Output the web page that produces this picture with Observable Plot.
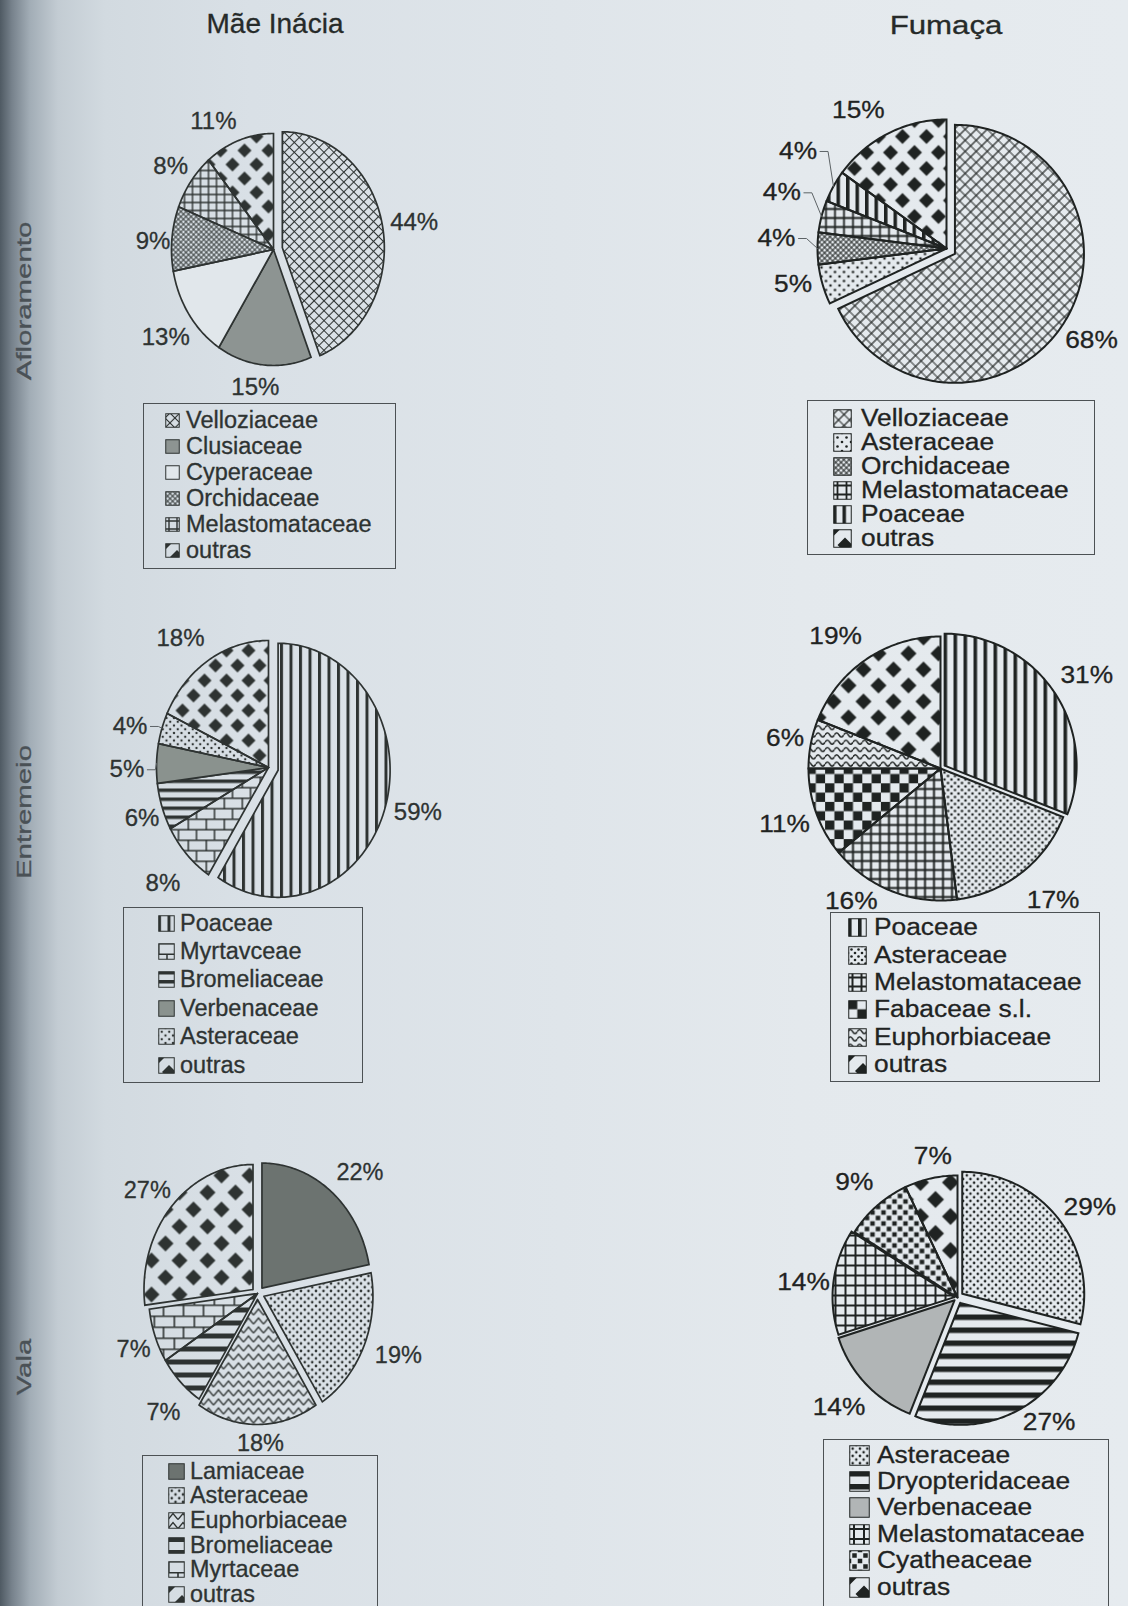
<!DOCTYPE html>
<html>
<head>
<meta charset="utf-8">
<script src="https://cdn.jsdelivr.net/npm/d3@7"></script>
<script src="https://cdn.jsdelivr.net/npm/@observablehq/plot@0.6"></script>
<style>
  html, body { margin: 0; padding: 0; }
  body {
    width: 1128px; height: 1606px; overflow: hidden; position: relative;
    font-family: "Liberation Sans", Arial, sans-serif; color: #262a29;
    background: linear-gradient(to right, #4f5a63 0px, #77828c 12px, #a2adb6 30px, #c3ccd3 58px,
      #d2dae0 105px, #d9e0e6 250px, #dfe5ea 560px, #e4e9ed 800px, #e6ebef 1128px);
  }
  .title { position: absolute; white-space: nowrap; line-height: 1; -webkit-text-stroke: 0.3px currentColor; }
  .rowlabel { position: absolute; white-space: nowrap; line-height: 1; color: #4a5156; font-size: 21px; -webkit-text-stroke: 0.3px currentColor; }
  .panel { position: absolute; }
  .panel svg { max-width: none !important; display: block; }
  .legend { position: absolute; box-sizing: border-box; border: 1.5px solid #4c5154; }
  .legend .row { display: flex; align-items: center; white-space: nowrap; }
  .legend .row span { display: inline-block; transform-origin: left center; -webkit-text-stroke: 0.3px currentColor; }
  .legend svg { flex: none; }
</style>
</head>
<body>
<svg id="pattern-defs" width="0" height="0" style="position:absolute;left:0;top:0"><defs></defs></svg>
<script>
// Family composition (% of species) by site and habitat
const siteTitles = ["Mãe Inácia", "Fumaça"];
const habitatLabels = ["Afloramento", "Entremeio", "Vala"];

const maeAfloramentoFamilies = ["Velloziaceae", "Clusiaceae", "Cyperaceae", "Orchidaceae", "Melastomataceae", "outras"];
const maeAfloramentoShares = [44, 15, 13, 9, 8, 11];

const fumacaAfloramentoFamilies = ["Velloziaceae", "Asteraceae", "Orchidaceae", "Melastomataceae", "Poaceae", "outras"];
const fumacaAfloramentoShares = [68, 5, 4, 4, 4, 15];

const maeEntremeioFamilies = ["Poaceae", "Myrtavceae", "Bromeliaceae", "Verbenaceae", "Asteraceae", "outras"];
const maeEntremeioShares = [59, 8, 6, 5, 4, 18];

const fumacaEntremeioFamilies = ["Poaceae", "Asteraceae", "Melastomataceae", "Fabaceae s.l.", "Euphorbiaceae", "outras"];
const fumacaEntremeioShares = [31, 17, 16, 11, 6, 19];

const maeValaFamilies = ["Lamiaceae", "Asteraceae", "Euphorbiaceae", "Bromeliaceae", "Myrtaceae", "outras"];
const maeValaShares = [22, 19, 18, 7, 7, 27];

const fumacaValaFamilies = ["Asteraceae", "Dryopteridaceae", "Verbenaceae", "Melastomataceae", "Cyatheaceae", "outras"];
const fumacaValaShares = [29, 27, 14, 14, 9, 7];

// ---------- hatch patterns ----------
const defs = d3.select("#pattern-defs defs");
let patternCount = 0;

function addPattern(w, h, ink, draw, transform) {
  const id = "hatch-" + (++patternCount);
  const p = defs.append("pattern").attr("id", id)
    .attr("patternUnits", "userSpaceOnUse").attr("width", w).attr("height", h);
  if (transform) p.attr("patternTransform", transform);
  draw(p, ink);
  return `url(#${id})`;
}

function diamondPath(cx, cy, a) {
  return `M${cx - a},${cy}L${cx},${cy - a}L${cx + a},${cy}L${cx},${cy + a}Z`;
}

const hatch = {
  solid: (ink, color) => color,
  cross: (ink, s, lw) => addPattern(s, s, ink, (p) =>
    p.append("path").attr("d", `M0,${s / 2}H${s}M${s / 2},0V${s}`).attr("stroke", ink).attr("stroke-width", lw), "rotate(45)"),
  grid: (ink, s, lw) => addPattern(s, s, ink, (p) =>
    p.append("path").attr("d", `M0,${s / 2}H${s}M${s / 2},0V${s}`).attr("stroke", ink).attr("stroke-width", lw)),
  vstripes: (ink, s, lw) => addPattern(s, s, ink, (p) =>
    p.append("rect").attr("x", 0).attr("y", 0).attr("width", lw).attr("height", s).attr("fill", ink)),
  hstripes: (ink, s, lw) => addPattern(s, s, ink, (p) =>
    p.append("rect").attr("x", 0).attr("y", 0).attr("width", s).attr("height", lw).attr("fill", ink)),
  dots: (ink, s, r) => addPattern(s, s, ink, (p) => {
    for (const [cx, cy] of [[0, 0], [s, 0], [0, s], [s, s], [s / 2, s / 2]])
      p.append("circle").attr("cx", cx).attr("cy", cy).attr("r", r).attr("fill", ink);
  }),
  diamonds: (ink, w, h, a) => addPattern(w, 2 * h, ink, (p) => {
    for (const [cx, cy] of [[0, 0], [w, 0], [0, 2 * h], [w, 2 * h], [w / 2, h]])
      p.append("path").attr("d", diamondPath(cx, cy, a)).attr("fill", ink);
  }),
  brick: (ink, w, h, lw) => addPattern(w, 2 * h, ink, (p) =>
    p.append("path").attr("d", `M0,${lw / 2}H${w}M0,${h + lw / 2}H${w}M${lw / 2},0V${h}M${w / 2},${h}V${2 * h}`)
      .attr("stroke", ink).attr("stroke-width", lw).attr("fill", "none")),
  checker: (ink, s) => addPattern(2 * s, 2 * s, ink, (p) => {
    p.append("rect").attr("x", 0).attr("y", 0).attr("width", s).attr("height", s).attr("fill", ink);
    p.append("rect").attr("x", s).attr("y", s).attr("width", s).attr("height", s).attr("fill", ink);
  }),
  wave: (ink, wl, sp, amp, lw) => addPattern(wl, sp, ink, (p) =>
    p.append("path").attr("d", `M0,${sp / 2}Q${wl / 4},${sp / 2 - 2 * amp} ${wl / 2},${sp / 2}T${wl},${sp / 2}`)
      .attr("stroke", ink).attr("stroke-width", lw).attr("fill", "none")),
  zigzag: (ink, wl, sp, amp, lw) => addPattern(wl, sp, ink, (p) =>
    p.append("path").attr("d", `M0,${sp / 2 + amp}L${wl / 2},${sp / 2 - amp}L${wl},${sp / 2 + amp}`)
      .attr("stroke", ink).attr("stroke-width", lw).attr("fill", "none")),
  squares: (ink, s, q) => addPattern(s, s, ink, (p) => {
    for (const [cx, cy] of [[0, 0], [s, 0], [0, s], [s, s], [s / 2, s / 2]])
      p.append("rect").attr("x", cx - q / 2).attr("y", cy - q / 2).attr("width", q).attr("height", q).attr("fill", ink);
  })
};

// ---------- panel layout and styling ----------
const LEFT_INK = "#2e3332";
const RIGHT_INK = "#1f2322";

const panels = [
  {
    families: maeAfloramentoFamilies, shares: maeAfloramentoShares, ink: LEFT_INK,
    cx: 273, cy: 249, rx: 102, ry: 116, strokeWidth: 1.7, labelSize: 24, stretch: 1,
    explode: { Velloziaceae: 9 },
    nudge: { outras: [-18, 2], Orchidaceae: [5, 5], Cyperaceae: [2, 5], Clusiaceae: [-7, 6], Velloziaceae: [1, 2] },
    leaders: [],
    fills: {
      Velloziaceae: ["cross", 7, 1.1], Clusiaceae: ["solid", "#8d9492"], Cyperaceae: ["solid", "#e1e7eb"],
      Orchidaceae: ["cross", 3.6, 0.9], Melastomataceae: ["grid", 8, 1.4], outras: ["diamonds", 24, 14, 7]
    },
    legend: { left: 143, top: 403, width: 253, height: 166, padTop: 3, padLeft: 21, rowH: 26, swatch: 15, gap: 6, font: 23.5, stretch: 1 }
  },
  {
    families: fumacaAfloramentoFamilies, shares: fumacaAfloramentoShares, ink: RIGHT_INK,
    cx: 946, cy: 248, rx: 129, ry: 129, strokeWidth: 2, labelSize: 23.5, stretch: 1.12,
    explode: { Velloziaceae: 10 },
    nudge: { outras: [-18, 0], Poaceae: [-12, -22], Melastomataceae: [-14, -17], Orchidaceae: [-16, -10], Asteraceae: [-4, -7] },
    leaders: ["Poaceae", "Melastomataceae", "Orchidaceae"],
    fills: {
      Velloziaceae: ["cross", 7.8, 1.2], Asteraceae: ["dots", 9, 1.3], Orchidaceae: ["cross", 3.8, 1],
      Melastomataceae: ["grid", 9, 1.8], Poaceae: ["vstripes", 9.5, 3.5], outras: ["diamonds", 24, 16, 7.5]
    },
    legend: { left: 807, top: 400, width: 288, height: 155, padTop: 5, padLeft: 25, rowH: 24, swatch: 19, gap: 9, font: 23.5, stretch: 1.12 }
  },
  {
    families: maeEntremeioFamilies, shares: maeEntremeioShares, ink: LEFT_INK,
    cx: 268, cy: 767, rx: 112, ry: 127, strokeWidth: 1.7, labelSize: 24, stretch: 1,
    explode: { Poaceae: 10 },
    nudge: { outras: [-14, 0], Myrtavceae: [-6, 12], Bromeliaceae: [4, 4], Asteraceae: [-8, 6], Verbenaceae: [-6, 7], Poaceae: [2, -2] },
    leaders: ["Asteraceae", "Verbenaceae"],
    fills: {
      Poaceae: ["vstripes", 9.5, 3], Myrtavceae: ["brick", 18, 10.5, 1.5], Bromeliaceae: ["hstripes", 9, 3.5],
      Verbenaceae: ["solid", "#8a928e"], Asteraceae: ["dots", 7.5, 1.2], outras: ["diamonds", 22, 15, 7]
    },
    legend: { left: 123, top: 907, width: 240, height: 176, padTop: 1, padLeft: 34, rowH: 28.4, swatch: 17, gap: 5, font: 23.5, stretch: 1 }
  },
  {
    families: fumacaEntremeioFamilies, shares: fumacaEntremeioShares, ink: RIGHT_INK,
    cx: 940, cy: 768, rx: 132, ry: 132, strokeWidth: 2, labelSize: 23.5, stretch: 1.12,
    explode: { Poaceae: 5 },
    nudge: { outras: [-15, 0], Melastomataceae: [-32, -12], Asteraceae: [14, 5], Poaceae: [6, 2] },
    leaders: [],
    fills: {
      Poaceae: ["vstripes", 10, 3.6], Asteraceae: ["dots", 7, 1.3], Melastomataceae: ["grid", 9, 2],
      "Fabaceae s.l.": ["checker", 9.3], Euphorbiaceae: ["wave", 9.3, 7.3, 2, 1.4], outras: ["diamonds", 30, 16, 8]
    },
    legend: { left: 830, top: 912, width: 270, height: 170, padTop: 1, padLeft: 17, rowH: 27.4, swatch: 19, gap: 7, font: 23.5, stretch: 1.12 }
  },
  {
    families: maeValaFamilies, shares: maeValaShares, ink: LEFT_INK,
    cx: 257, cy: 1293, rx: 109, ry: 125, strokeWidth: 1.7, labelSize: 23.5, stretch: 1,
    explode: { Lamiaceae: 7, Asteraceae: 7, Euphorbiaceae: 6, outras: 6 },
    nudge: { Lamiaceae: [11, 2], Bromeliaceae: [0, 14], Euphorbiaceae: [3, 5], outras: [-2, 3], Asteraceae: [6, -3], Myrtaceae: [2, 5] },
    leaders: [],
    fills: {
      Lamiaceae: ["solid", "#6c7370"], Asteraceae: ["dots", 7.5, 1.3], Euphorbiaceae: ["zigzag", 10, 9, 3, 1.4],
      Bromeliaceae: ["hstripes", 13, 5], Myrtaceae: ["brick", 20, 11, 1.6], outras: ["diamonds", 28, 17, 8]
    },
    legend: { left: 142, top: 1455, width: 236, height: 170, padTop: 3, padLeft: 25, rowH: 24.6, swatch: 17, gap: 5, font: 23.4, stretch: 1 }
  },
  {
    families: fumacaValaFamilies, shares: fumacaValaShares, ink: RIGHT_INK,
    cx: 957, cy: 1297, rx: 122, ry: 122, strokeWidth: 2, labelSize: 23.5, stretch: 1.12,
    explode: { Asteraceae: 6, Dryopteridaceae: 6, Verbenaceae: 4, Melastomataceae: 3 },
    nudge: { Dryopteridaceae: [22, -12], Asteraceae: [6, 8], Cyatheaceae: [-6, -5], outras: [6, -4], Melastomataceae: [3, 5], Verbenaceae: [-4, 3] },
    leaders: [],
    fills: {
      Asteraceae: ["dots", 7.3, 1.3], Dryopteridaceae: ["hstripes", 13, 5.5], Verbenaceae: ["solid", "#b1b5b6"],
      Melastomataceae: ["grid", 10, 2], Cyatheaceae: ["squares", 11, 4.5], outras: ["diamonds", 30, 17, 8.5]
    },
    legend: { left: 823, top: 1439, width: 286, height: 190, padTop: 2, padLeft: 25, rowH: 26.4, swatch: 21, gap: 7, font: 23.5, stretch: 1.12 }
  }
];

// ---------- drawing ----------
const PAD = 95; // room around each pie for its percentage labels
const DEG = Math.PI / 180;

function percentWidthEm(text) {
  let w = 0;
  for (const ch of text) w += ch === "%" ? 0.889 : 0.556;
  return w;
}

function drawPanel(panel) {
  const { families, shares, rx, ry, cx, cy, ink } = panel;
  const total = d3.sum(shares);
  const W = 2 * (rx + PAD), H = 2 * (ry + PAD);
  const kx = (rx + PAD) / rx, ky = (ry + PAD) / ry;

  const fills = {};
  for (const f of families) {
    const [kind, ...args] = panel.fills[f];
    fills[f] = hatch[kind](ink, ...args);
  }

  // slices in unit coordinates: angle measured clockwise from 12 o'clock
  let acc = 0;
  const slices = families.map((family, i) => {
    const start = acc / total * 2 * Math.PI;
    acc += shares[i];
    const end = acc / total * 2 * Math.PI;
    return { family, value: shares[i], start, end, mid: (start + end) / 2, explode: panel.explode[family] || 0 };
  });

  const marks = [];
  for (const s of slices) {
    const ox = s.explode * Math.sin(s.mid) / rx, oy = -s.explode * Math.cos(s.mid) / ry;
    const n = Math.max(2, Math.ceil((s.end - s.start) / DEG));
    const pts = [{ x: ox, y: oy }];
    for (let j = 0; j <= n; j++) {
      const a = s.start + (s.end - s.start) * j / n;
      pts.push({ x: ox + Math.sin(a), y: oy - Math.cos(a) });
    }
    pts.push({ x: ox, y: oy });
    marks.push(Plot.line(pts, {
      x: "x", y: "y", fill: fills[s.family], stroke: ink, strokeWidth: panel.strokeWidth,
      strokeLinejoin: "miter", strokeMiterlimit: 4, curve: "linear"
    }));
  }

  // percentage labels just outside each slice
  const labels = [];
  const leaderPts = [];
  for (const s of slices) {
    const text = `${s.value}%`;
    const dx = Math.sin(s.mid), dy = -Math.cos(s.mid);
    const hw = percentWidthEm(text) * panel.labelSize * panel.stretch / 2;
    const hh = 0.36 * panel.labelSize;
    const off = s.explode + 6 + hw * Math.abs(dx) + hh * Math.abs(dy);
    const [nx, ny] = panel.nudge[s.family] || [0, 0];
    const px = rx * dx + off * dx + nx;
    const py = ry * dy + off * dy + ny;
    labels.push({ x: px / rx, y: py / ry, text });
    if (panel.leaders.includes(s.family)) {
      const lx = px + hw + 3;
      leaderPts.push(
        { key: s.family, x: lx / rx, y: py / ry },
        { key: s.family, x: (lx + 8) / rx, y: py / ry },
        { key: s.family, x: dx, y: dy }
      );
    }
  }
  if (leaderPts.length) {
    marks.push(Plot.line(leaderPts, { x: "x", y: "y", z: "key", stroke: "#5d6366", strokeWidth: 1, curve: "linear" }));
  }
  marks.push(Plot.text(labels, {
    x: "x", y: "y", text: "text", fontSize: panel.labelSize, fill: ink, stroke: ink, strokeWidth: 0.3,
    fontFamily: "Liberation Sans, Arial, sans-serif"
  }));

  const svg = Plot.plot({
    width: W, height: H, margin: 0,
    x: { domain: [-kx, kx], range: [0, W], axis: null },
    y: { domain: [-ky, ky], range: [0, H], axis: null },
    style: { background: "transparent", overflow: "visible", maxWidth: "none" },
    marks
  });

  if (panel.stretch !== 1) {
    for (const t of svg.querySelectorAll('g[aria-label="text"] text')) {
      const tr = t.getAttribute("transform");
      if (tr) t.setAttribute("transform", `${tr} scale(${panel.stretch},1)`);
      else {
        const x = +t.getAttribute("x") || 0, y = +t.getAttribute("y") || 0;
        t.removeAttribute("x"); t.removeAttribute("y");
        t.setAttribute("transform", `translate(${x},${y}) scale(${panel.stretch},1)`);
      }
    }
  }

  const holder = document.createElement("div");
  holder.className = "panel";
  holder.style.left = `${cx - rx - PAD}px`;
  holder.style.top = `${cy - ry - PAD}px`;
  holder.style.width = `${W}px`;
  holder.style.height = `${H}px`;
  holder.appendChild(svg);
  document.body.appendChild(holder);

  // boxed legend under the pie
  const L = panel.legend;
  const box = document.createElement("div");
  box.className = "legend";
  Object.assign(box.style, {
    left: `${L.left}px`, top: `${L.top}px`, width: `${L.width}px`, height: `${L.height}px`,
    paddingTop: `${L.padTop}px`, paddingLeft: `${L.padLeft}px`, fontSize: `${L.font}px`, color: ink
  });
  for (const f of families) {
    const row = document.createElement("div");
    row.className = "row";
    row.style.height = `${L.rowH}px`;
    const sw = d3.create("svg").attr("width", L.swatch).attr("height", L.swatch);
    sw.append("rect").attr("x", 0.75).attr("y", 0.75).attr("width", L.swatch - 1.5).attr("height", L.swatch - 1.5)
      .attr("fill", fills[f]).attr("stroke", ink).attr("stroke-width", 1);
    row.appendChild(sw.node());
    const span = document.createElement("span");
    span.textContent = f;
    span.style.marginLeft = `${L.gap}px`;
    if (L.stretch !== 1) span.style.transform = `scaleX(${L.stretch})`;
    row.appendChild(span);
    box.appendChild(row);
  }
  document.body.appendChild(box);
}

panels.forEach(drawPanel);

// column titles
const titleSpecs = [
  { x: 275, y: 24, size: 28, sx: 1 },
  { x: 946, y: 25, size: 26, sx: 1.2 }
];
siteTitles.forEach((t, i) => {
  const s = titleSpecs[i];
  const el = document.createElement("div");
  el.className = "title";
  el.textContent = t;
  Object.assign(el.style, { left: `${s.x}px`, top: `${s.y}px`, fontSize: `${s.size}px`,
    transform: `translate(-50%, -50%) scaleX(${s.sx})`, color: "#262a29" });
  document.body.appendChild(el);
});

// rotated habitat labels along the left edge
const rowCenters = [301, 812, 1367];
habitatLabels.forEach((t, i) => {
  const el = document.createElement("div");
  el.className = "rowlabel";
  el.textContent = t;
  Object.assign(el.style, { left: "23px", top: `${rowCenters[i]}px`,
    transform: "translate(-50%, -50%) rotate(-90deg) scaleX(1.4)" });
  document.body.appendChild(el);
});
</script>
</body>
</html>
